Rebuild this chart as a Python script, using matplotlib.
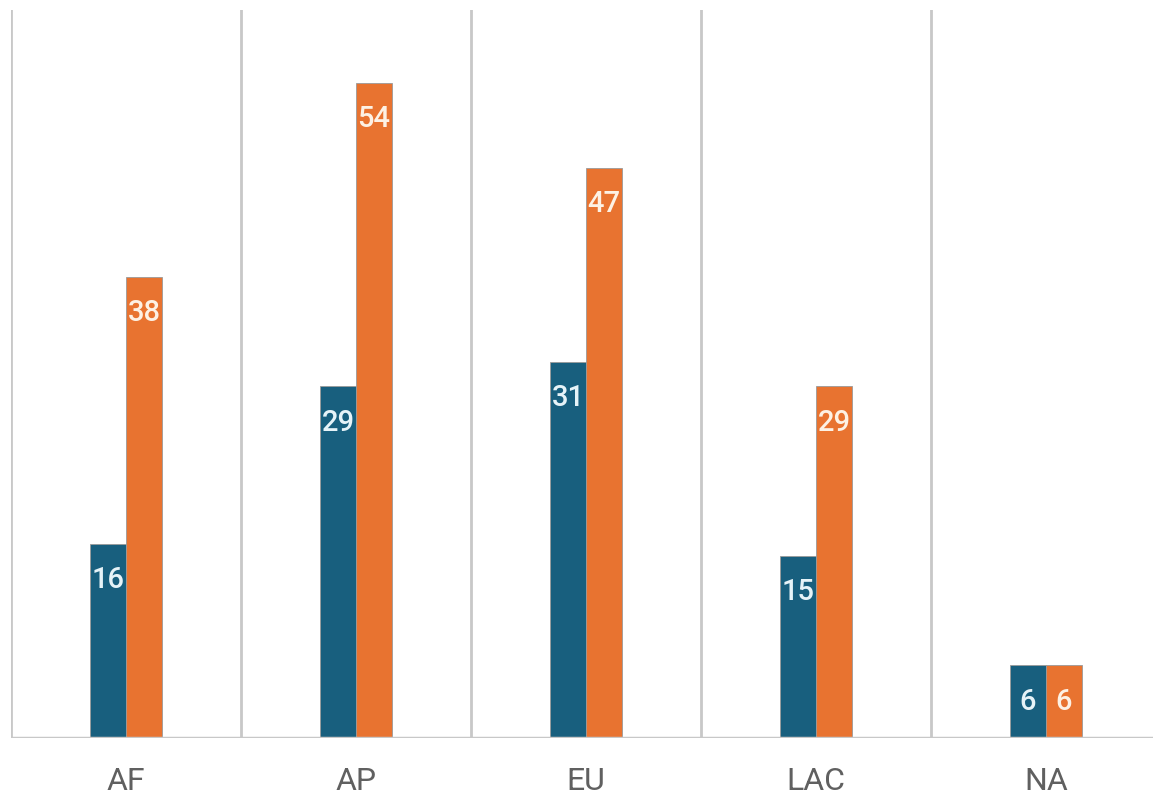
import matplotlib.pyplot as plt
import numpy as np

categories = ["AF", "AP", "EU", "LAC", "NA"]
series_blue = [16, 29, 31, 15, 6]
series_orange = [38, 54, 47, 29, 6]

blue = "#185f7e"
orange = "#e87330"
grid_gray = "#c8c8c8"

plt.rcParams['font.family'] = ['Roboto', 'DejaVu Sans']

fig = plt.figure(figsize=(11.53, 7.97), dpi=100)
ax = fig.add_axes([11 / 1153, 59 / 797, 1150 / 1153, 728 / 797])

x = np.arange(len(categories))
w = 36 / 230

b1 = ax.bar(x - w / 2, series_blue, width=w, color=blue, edgecolor="#9a9a9a", linewidth=0.6)
b2 = ax.bar(x + w / 2, series_orange, width=w, color=orange, edgecolor="#9a9a9a", linewidth=0.6)

for xi, v in zip(x, series_blue):
    ax.text(xi - w / 2, v - 3, str(v), ha="center", va="center", color="#e6f3f8",
            fontsize=21, fontweight="medium")
for xi, v in zip(x, series_orange):
    ax.text(xi + w / 2, v - 3, str(v), ha="center", va="center", color="#fdf1e4",
            fontsize=21, fontweight="medium")

# separators between groups
for sep in np.arange(len(categories)) - 0.5:
    ax.axvline(sep, color=grid_gray, linewidth=2, zorder=0)
ax.axhline(0, color=grid_gray, linewidth=2.5, zorder=3)

ax.set_xlim(-0.5, 4.5)
ax.set_ylim(0, 60)
for s in ax.spines.values():
    s.set_visible(False)
ax.set_yticks([])
ax.set_xticks(x)
ax.set_xticklabels(categories, fontsize=23, color="#606060")
ax.tick_params(axis="x", length=0, pad=21)

fig.savefig("out.png", dpi=100)
